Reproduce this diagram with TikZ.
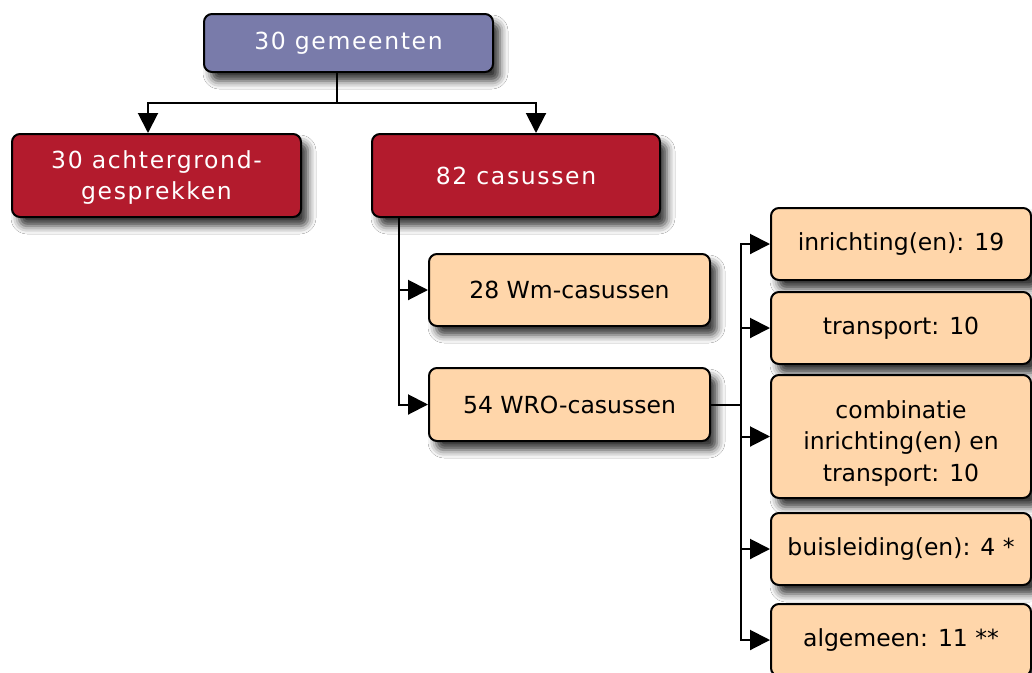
\documentclass[tikz,border=0pt]{standalone}
\usepackage{fontspec}
\setmainfont{DejaVu Sans}
\usetikzlibrary{arrows.meta,shadows.blur}
\definecolor{topblue}{RGB}{121,123,170}
\definecolor{boxred}{RGB}{179,27,45}
\definecolor{peach}{RGB}{255,214,170}
\newcommand{\lowered}[2]{\raisebox{-#1}[\height][\depth]{\begin{tabular}{@{}c@{}}#2\end{tabular}}}
\tikzset{
  basebox/.style={overlay, draw=black, line width=2pt, rounded corners=8pt, align=center, anchor=center, inner sep=0pt,
    blur shadow={shadow xshift=7pt, shadow yshift=-9pt, shadow blur radius=8pt, shadow opacity=80},
    font=\fontsize{23.5}{31.5}\selectfont},
  topbox/.style={basebox, fill=topblue, text=white, font=\fontsize{23.5}{31.5}\selectfont\addfontfeature{LetterSpace=7}},
  redbox/.style={basebox, fill=boxred, text=white, font=\fontsize{23.5}{31.5}\selectfont\addfontfeature{LetterSpace=7}},
  peachbox/.style={basebox, fill=peach, text=black},
  conn/.style={overlay, draw=black, line width=2pt},
  arr/.style={conn, -{Triangle[length=20pt,width=20pt]}},
}
\begin{document}
\begin{tikzpicture}[x=1pt,y=-1pt]
\path[fill=white] (0,0) rectangle (1032,672);
\useasboundingbox (0,0) rectangle (1032,672);
\clip (0,0) rectangle (1032,672);

\node[topbox, minimum width=289pt, minimum height=58pt] (top) at (348.5,43) {30 gemeenten};
\node[redbox, minimum width=289pt, minimum height=83pt] (red1) at (156.5,175.5) {\lowered{2pt}{30 achtergrond-\\gesprekken}};
\node[redbox, minimum width=288pt, minimum height=83pt] (red2) at (516,175.5) {82 casussen};

\node[peachbox, minimum width=281pt, minimum height=72pt] (wm) at (569.5,290) {28 Wm-casussen};
\node[peachbox, minimum width=281pt, minimum height=73pt] (wro) at (569.5,404.5) {54 WRO-casussen};

\node[peachbox, minimum width=260pt, minimum height=72pt] (r1) at (901,244) {inrichting(en): 19};
\node[peachbox, minimum width=260pt, minimum height=72pt] (r2) at (901,328) {transport: 10};
\node[peachbox, minimum width=260pt, minimum height=123pt] (r3) at (901,436.5) {\lowered{7pt}{combinatie\\inrichting(en) en\\transport: 10}};
\node[peachbox, minimum width=260pt, minimum height=72pt] (r4) at (901,549) {buisleiding(en): 4 *};
\node[peachbox, minimum width=260pt, minimum height=72pt] (r5) at (901,640) {algemeen: 11 **};

\coordinate (j1) at (337,102.5);
\draw[conn] ([xshift=-11.5pt]top.south) -- (j1);
\draw[arr] (j1) -| ([xshift=-8.5pt]red1.north);
\draw[arr] (j1) -| ([xshift=20pt]red2.north);

\draw[arr] ([xshift=-117pt]red2.south) |- (wm.west);
\draw[arr] ([xshift=-117pt]red2.south) |- (wro.west);

\foreach \t in {r1,r2,r3,r4,r5}{
  \draw[arr] (wro.east) -- ++(30,0) |- (\t.west);
}
\end{tikzpicture}
\end{document}
